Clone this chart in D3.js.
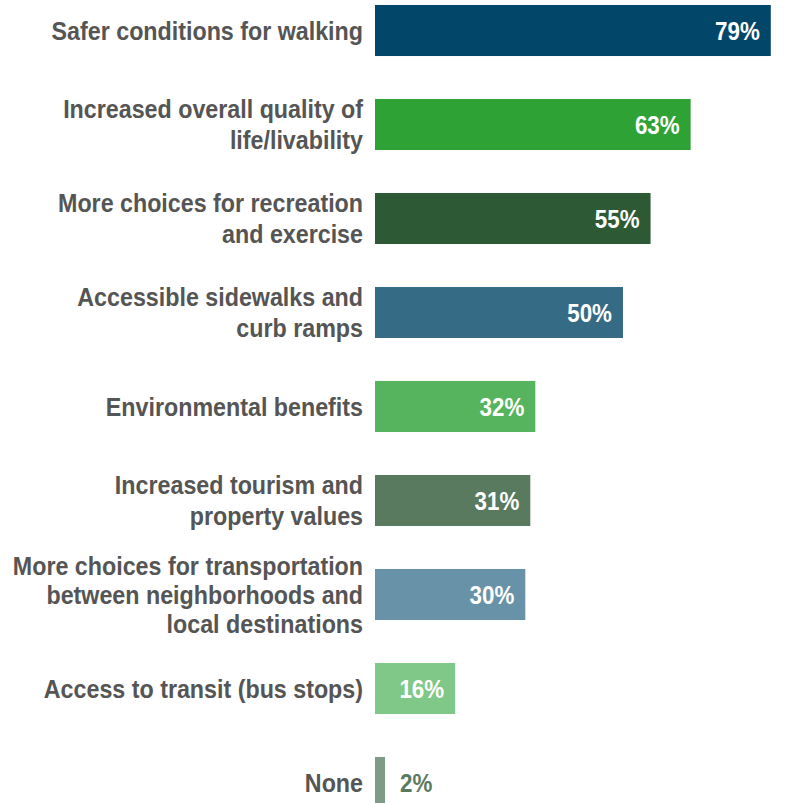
<!DOCTYPE html>
<html>
<head>
<meta charset="utf-8">
<script src="https://cdn.jsdelivr.net/npm/d3@7"></script>
<style>
  html, body { margin: 0; padding: 0; background: #ffffff; }
  svg { display: block; }
  .cat { font-family: "Liberation Sans Narrow", "Liberation Sans", Arial, sans-serif; font-weight: bold; font-size: 26px; fill: #555555; }
  .val { font-family: "Liberation Sans Narrow", "Liberation Sans", Arial, sans-serif; font-weight: bold; font-size: 26px; }
</style>
</head>
<body>
<svg id="chart" width="786" height="803"></svg>
<script>
const categories = [
  "Safer conditions for walking",
  "Increased overall quality of|life/livability",
  "More choices for recreation|and exercise",
  "Accessible sidewalks and|curb ramps",
  "Environmental benefits",
  "Increased tourism and|property values",
  "More choices for transportation|between neighborhoods and|local destinations",
  "Access to transit (bus stops)",
  "None"
];
const values = [79, 63, 55, 49.5, 32, 31, 30, 16, 2];
const colors = ["#02466a", "#2fa236", "#2d5a35", "#356b85", "#55b45d", "#5a7a5f", "#6792a7", "#80c888", "#7e9c85"];

const svg = d3.select("#chart");
const x = d3.scaleLinear().domain([0, 100]).range([375, 876]);
const y = d3.scaleBand().domain(categories).range([-16.5, 829.5]).paddingInner(0.457).paddingOuter(0.2285);

const data = categories.map((c, i) => ({ c, v: values[i], col: colors[i] }));

svg.selectAll("rect.bar").data(data).join("rect")
  .attr("class", "bar")
  .attr("x", x(0))
  .attr("y", d => y(d.c))
  .attr("width", d => x(d.v) - x(0))
  .attr("height", y.bandwidth())
  .attr("fill", d => d.col);

// condensed look: horizontal squeeze when no narrow face is installed
const catSqueeze = 0.895, valSqueeze = 0.86;

const cat = svg.selectAll("text.cat").data(data).join("text")
  .attr("class", "cat")
  .attr("text-anchor", "end")
  .attr("transform", `translate(363,0) scale(${catSqueeze},1)`);
cat.each(function(d) {
  const lines = d.c.split("|");
  const lh = lines.length > 2 ? 29 : 31;
  const cy = y(d.c) + y.bandwidth() / 2;
  const first = cy - (lines.length - 1) * lh / 2;
  d3.select(this).selectAll("tspan").data(lines).join("tspan")
    .attr("x", 0)
    .attr("y", (l, i) => first + i * lh)
    .attr("dy", "0.35em")
    .text(l => l);
});

const fmt = v => Math.round(v) + "%";
svg.selectAll("text.val").data(data).join("text")
  .attr("class", "val")
  .attr("transform", d => `translate(${d.v < 5 ? x(d.v) + 15 : x(d.v) - 11},0) scale(${valSqueeze},1)`)
  .attr("x", 0)
  .attr("y", d => y(d.c) + y.bandwidth() / 2)
  .attr("dy", "0.35em")
  .attr("text-anchor", d => d.v < 5 ? "start" : "end")
  .attr("fill", d => d.v < 5 ? "#5a7a5f" : "#ffffff")
  .text(d => fmt(d.v));
</script>
</body>
</html>
